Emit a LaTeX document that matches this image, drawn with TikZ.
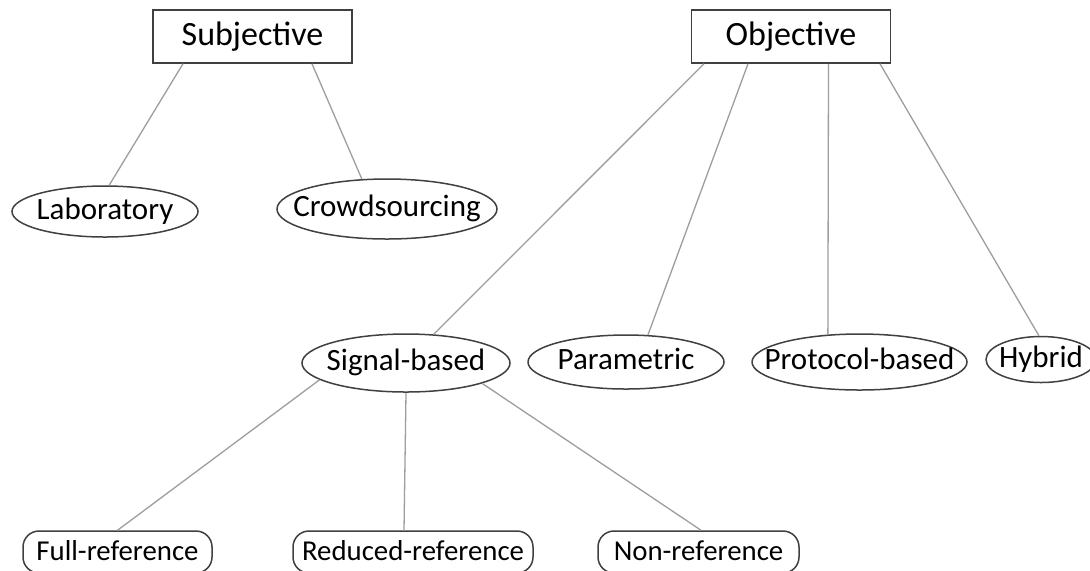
\documentclass[tikz,border=0pt]{standalone}
\usepackage{fontspec}
\setmainfont{Carlito}
\usetikzlibrary{shapes.geometric,calc}
\begin{document}
\begin{tikzpicture}[x=0.5pt,y=-0.5pt,
  every node/.style={text=black, inner sep=0pt, line width=0.75pt, draw=black!75},
  headbox/.style={rectangle, minimum width=99.5pt, minimum height=26.5pt,
                  font=\fontsize{17}{20}\selectfont, text height=12pt, text depth=3.5pt},
  oval/.style 2 args={ellipse, minimum width=#1, minimum height=#2,
                  font=\fontsize{15.5}{18}\selectfont, text height=11pt, text depth=3.5pt},
  pill/.style={rectangle, rounded corners=8pt, minimum width=#1, minimum height=21pt,
                  font=\fontsize{14.4}{17}\selectfont, text height=11.5pt, text depth=3.5pt},
  link/.style={draw=black!38, line width=0.65pt}]

  % canvas
  \fill[white] (0,0) rectangle (1090,570);
  \useasboundingbox (0,0) rectangle (1090,570);
  \clip (0,0) rectangle (1090,570);

  % top level
  \node[headbox] (subj) at (252.5,36.5) {Subjective};
  \node[headbox] (obj)  at (791,36.5)   {Objective};

  % subjective methods
  \node[oval={93pt}{25.5pt}] (lab)   at (105,211.5) {\makebox[0pt]{Laboratory}};
  \node[oval={110pt}{30pt}]  (crowd) at (387,209)   {\makebox[0pt]{Crowdsourcing}};

  % objective methods
  \node[oval={104pt}{29pt}]   (sig)  at (406,363)    {\makebox[0pt]{Signal-based}};
  \node[oval={98pt}{27pt}]    (par)  at (626,362)    {\makebox[0pt]{Parametric}};
  \node[oval={107.5pt}{28pt}] (prot) at (859.5,362)  {\makebox[0pt]{Protocol-based}};
  \node[oval={55pt}{23pt}]    (hyb)  at (1041,359.5) {\makebox[0pt]{Hybrid}};

  % signal-based variants
  \node[pill=94.5pt]  (full) at (117.5,552) {Full-reference};
  \node[pill=120pt]   (red)  at (413,552)   {Reduced-reference};
  \node[pill=100.5pt] (non)  at (698.5,552) {Non-reference};

  % connectors
  \draw[link] ($(subj.south)+(-69.5,0)$) -- (lab.81);
  \draw[link] ($(subj.south)+(59.5,0)$)  -- (crowd.130);

  \draw[link] ($(obj.south)+(-87,0)$) -- (sig.46);
  \draw[link] ($(obj.south)+(-43,0)$) -- (par.51.5);
  \draw[link] ($(obj.south)+(37.5,0)$) -- (prot.139.6);
  \draw[link] ($(obj.south)+(89,0)$)  -- (hyb.95);

  \draw[link] (sig.191.9) -- (full.north);
  \draw[link] (sig.270)   -- ($(red.north)+(-9,0)$);
  \draw[link] (sig.345.8) -- ($(non.north)+(2.5,0)$);
\end{tikzpicture}
\end{document}
